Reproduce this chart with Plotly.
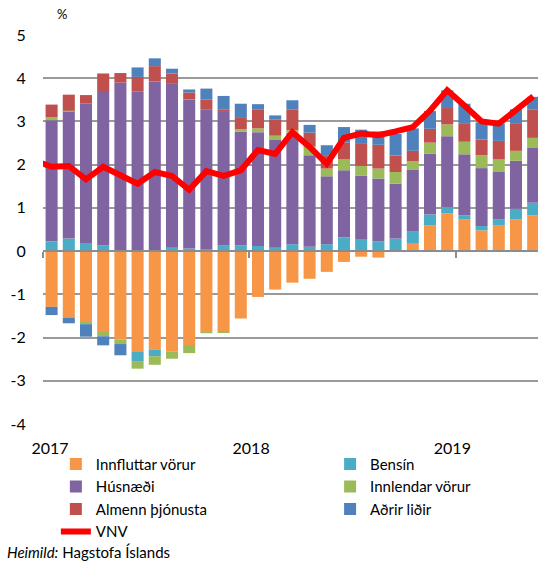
import plotly.graph_objects as go

# ---- data (monthly contributions to 12-month CPI inflation, %-points) ----
manudir = ["2017-01", "2017-02", "2017-03", "2017-04", "2017-05", "2017-06",
           "2017-07", "2017-08", "2017-09", "2017-10", "2017-11", "2017-12",
           "2018-01", "2018-02", "2018-03", "2018-04", "2018-05", "2018-06",
           "2018-07", "2018-08", "2018-09", "2018-10", "2018-11", "2018-12",
           "2019-01", "2019-02", "2019-03", "2019-04", "2019-05"]

innfluttar_vorur = [-1.29, -1.54, -1.64, -1.85, -2.04, -2.32, -2.28, -2.32, -2.17, -1.85,
                    -1.85, -1.56, -1.06, -0.89, -0.73, -0.64, -0.48, -0.25, -0.13, -0.15,
                    0.00, 0.17, 0.60, 0.87, 0.74, 0.48, 0.59, 0.73, 0.83]
bensin = [0.22, 0.29, 0.19, 0.13, 0.00, -0.24, -0.15, 0.08, 0.06, 0.03,
          0.14, 0.13, 0.12, 0.08, 0.16, 0.10, 0.16, 0.32, 0.28, 0.23,
          0.29, 0.28, 0.25, 0.15, 0.09, 0.10, 0.15, 0.25, 0.29]
husnaedi = [2.81, 2.95, 3.22, 3.55, 3.90, 3.70, 3.92, 3.79, 3.45, 3.24,
            3.08, 2.64, 2.63, 2.49, 2.58, 2.12, 1.57, 1.55, 1.46, 1.45,
            1.27, 1.44, 1.40, 1.64, 1.41, 1.34, 1.09, 1.11, 1.28]
innlendar_vorur = [0.07, 0.01, -0.05, -0.12, -0.11, -0.16, -0.20, -0.17, -0.19, -0.05,
                   -0.03, 0.05, 0.09, 0.10, 0.06, 0.20, 0.18, 0.25, 0.23, 0.23,
                   0.27, 0.19, 0.26, 0.27, 0.29, 0.30, 0.29, 0.23, 0.22]
almenn_thjonusta = [0.29, 0.37, 0.20, 0.43, 0.22, 0.33, 0.36, 0.24, 0.16, 0.24,
                    0.05, 0.28, 0.43, 0.37, 0.48, 0.32, 0.31, 0.39, 0.51, 0.55,
                    0.38, 0.24, 0.32, 0.38, 0.43, 0.36, 0.43, 0.64, 0.65]
adrir_lidir = [-0.19, -0.13, -0.29, -0.21, -0.26, 0.22, 0.18, 0.11, 0.07, 0.25,
               0.32, 0.31, 0.13, 0.10, 0.21, 0.18, 0.23, 0.36, 0.33, 0.31,
               0.50, 0.52, 0.41, 0.41, 0.45, 0.40, 0.40, 0.32, 0.30]

vnv_manudir = ["2016-12"] + manudir
vnv = [2.10, 1.95, 1.97, 1.66, 1.95, 1.75, 1.56, 1.83, 1.74, 1.42, 1.85,
       1.74, 1.87, 2.34, 2.25, 2.75, 2.41, 2.02, 2.62, 2.72, 2.68, 2.77,
       2.87, 3.25, 3.72, 3.37, 3.00, 2.95, 3.27, 3.58]

ar_merki = ["2017", "2018", "2019"]
y_merki = ["5", "4", "3", "2", "1", "0", "-1", "-2", "-3", "-4"]

# ---- positions derived from the month lists ----
x_bars = list(range(len(manudir)))
x_vnv = [manudir.index(m) if m in manudir else -1 for m in vnv_manudir]
y_vals = [int(v) for v in y_merki]

FONT = "Lato"
GRID = "#9a9a9a"

series = [
    ("Innfluttar vörur", innfluttar_vorur, "#F79646", "legend"),
    ("Bensín", bensin, "#4BACC6", "legend2"),
    ("Húsnæði", husnaedi, "#8064A2", "legend"),
    ("Innlendar vörur", innlendar_vorur, "#9BBB59", "legend2"),
    ("Almenn þjónusta", almenn_thjonusta, "#C0504D", "legend"),
    ("Aðrir liðir", adrir_lidir, "#4F81BD", "legend2"),
]

fig = go.Figure()
for name, vals, color, leg in series:
    fig.add_trace(go.Bar(
        x=x_bars, y=vals, name=name, marker_color=color,
        marker_line_width=0, width=0.7, legend=leg,
        hovertext=manudir,
    ))

fig.add_trace(go.Scatter(
    x=x_vnv, y=vnv, name="VNV", mode="lines",
    line=dict(color="#FF0000", width=6), legend="legend",
    xaxis="x2", hovertext=vnv_manudir,
))

xr = [-0.5, 28.28]
fig.update_layout(
    width=538, height=562,
    margin=dict(l=43, r=0, t=35, b=138),
    paper_bgcolor="white", plot_bgcolor="white",
    barmode="relative", bargap=0.3,
    font=dict(family=FONT, size=16, color="#000000"),
    showlegend=True,
    xaxis=dict(
        range=xr, showgrid=False, zeroline=False, showline=False,
        tickvals=[-0.09, 11.6, 23.3], ticktext=ar_merki,
        ticks="outside", ticklen=10, tickcolor="rgba(0,0,0,0)",
        tickfont=dict(size=16),
    ),
    xaxis2=dict(
        range=xr, overlaying="x", anchor="free", position=4 / 9,
        side="bottom", showgrid=False, zeroline=False,
        showline=True, linecolor="#8c8c8c", linewidth=2,
        ticks="outside", ticklen=6, tickwidth=1.5, tickcolor="#8c8c8c",
        tickvals=[-0.5, 11.5, 23.5], showticklabels=False,
    ),
    yaxis=dict(
        range=[-4, 5], tickvals=y_vals, ticktext=y_merki,
        showgrid=True, gridcolor=GRID, gridwidth=1.5,
        zeroline=False, showline=False,
        ticks="outside", ticklen=13, tickcolor="rgba(0,0,0,0)",
        tickfont=dict(size=16),
    ),
    legend=dict(
        orientation="v", x=0.026, xanchor="left", y=-0.061, yanchor="top",
        traceorder="normal", font=dict(size=15, family=FONT),
        bgcolor="rgba(0,0,0,0)", itemwidth=30,
    ),
    legend2=dict(
        orientation="v", x=0.58, xanchor="left", y=-0.061, yanchor="top",
        traceorder="normal", font=dict(size=15, family=FONT),
        bgcolor="rgba(0,0,0,0)", itemwidth=30,
    ),
    annotations=[
        dict(text="%", xref="paper", yref="paper", x=0.038, y=1.054,
             xanchor="center", yanchor="middle", showarrow=False,
             font=dict(size=13, family=FONT)),
        dict(text="<i>Heimild:</i> Hagstofa Íslands", xref="paper", yref="paper",
             x=-0.0768, y=-0.3278, xanchor="left", yanchor="middle",
             showarrow=False, font=dict(size=15, family=FONT)),
    ],
)

# remove the browser's default 8px body margin so the figure sits at the top-left corner
fig.write_html("out.html", config={"displayModeBar": False},
               post_script="document.body.style.margin='0px';")
